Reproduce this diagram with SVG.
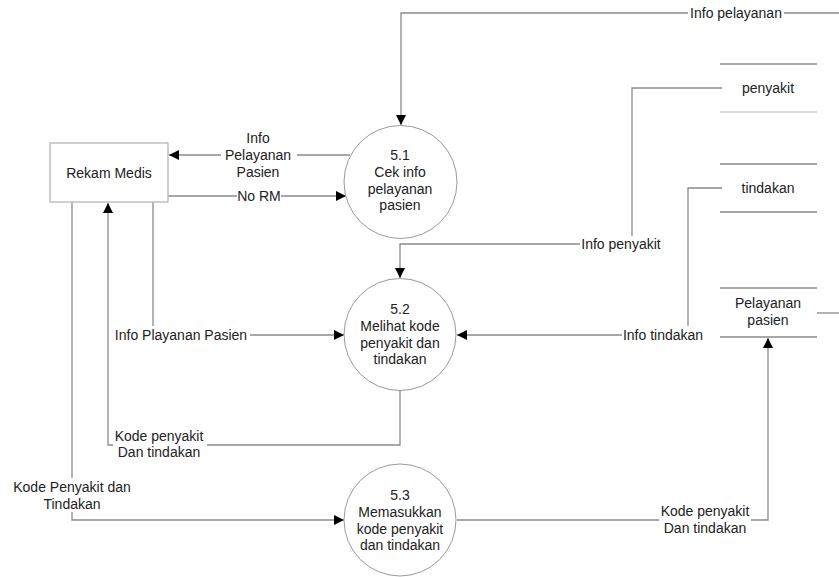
<svg xmlns="http://www.w3.org/2000/svg" width="839" height="577" viewBox="0 0 839 577">
<style>
text{font-family:"Liberation Sans",Arial,sans-serif;font-size:14px;fill:#222;text-anchor:middle;dominant-baseline:central}
.ln{fill:none;stroke:#8a8a8a;stroke-width:1.3}
.proc{fill:#fff;stroke:#9a9a9a;stroke-width:1}
.ent{fill:#fff;stroke:#b5b5b5;stroke-width:1.3}
.st{stroke:#8a8a8a;stroke-width:1.3}
.bg{fill:#fff}
</style>
<defs>
<marker id="ah" markerUnits="userSpaceOnUse" markerWidth="10" markerHeight="10" viewBox="0 0 10 10" refX="10" refY="5" orient="auto">
<path d="M0,0 L10,5 L0,10 z" fill="#000"/>
</marker>
</defs>
<rect width="839" height="577" fill="#fff"/>
<g id="connectors">
<path class="ln" d="M839,13 H401 V125" marker-end="url(#ah)"/>
<path class="ln" d="M350,155 H169" marker-end="url(#ah)"/>
<path class="ln" d="M168,196 H346" marker-end="url(#ah)"/>
<path class="ln" d="M400,390 V445 H108 V203" marker-end="url(#ah)"/>
<path class="ln" d="M153,202 V335 H344" marker-end="url(#ah)"/>
<path class="ln" d="M72,202 V520 H344" marker-end="url(#ah)"/>
<path class="ln" d="M722,88 H632 V244 H400 V278" marker-end="url(#ah)"/>
<path class="ln" d="M722,188 H688 V335 H457" marker-end="url(#ah)"/>
<path class="ln" d="M457,520 H768 V338" marker-end="url(#ah)"/>
<path class="ln" d="M817,313 H839"/>
<rect class="bg" x="688" y="5" width="96" height="17"/>
<text x="736" y="13">Info pelayanan</text>
<rect class="bg" x="221" y="130" width="76" height="50"/>
<text x="258" y="138">Info</text>
<text x="258" y="155">Pelayanan</text>
<text x="258" y="172">Pasien</text>
<rect class="bg" x="237" y="188" width="44" height="17"/>
<text x="259" y="196">No RM</text>
<rect class="bg" x="113" y="427" width="94" height="34"/>
<text x="159" y="436">Kode penyakit</text>
<text x="159" y="452">Dan tindakan</text>
<rect class="bg" x="113" y="326" width="137" height="18"/>
<text x="181" y="335">Info Playanan Pasien</text>
<rect class="bg" x="10" y="478" width="124" height="34"/>
<text x="72" y="487">Kode Penyakit dan</text>
<text x="72" y="504">Tindakan</text>
<rect class="bg" x="580" y="236" width="83" height="17"/>
<text x="621" y="244">Info penyakit</text>
<rect class="bg" x="622" y="326" width="83" height="18"/>
<text x="663" y="335">Info tindakan</text>
<rect class="bg" x="659" y="502" width="92" height="34"/>
<text x="705" y="511">Kode penyakit</text>
<text x="705" y="528">Dan tindakan</text>
</g>
<g id="rekam-medis">
<rect class="ent" x="50" y="143" width="118" height="59"/>
<text x="109" y="173">Rekam Medis</text>
</g>
<g id="p5-1">
<circle class="proc" cx="400.5" cy="182" r="56.5"/>
<text x="400" y="155">5.1</text>
<text x="400" y="172">Cek info</text>
<text x="400" y="189">pelayanan</text>
<text x="400" y="205">pasien</text>
</g>
<g id="p5-2">
<circle class="proc" cx="400" cy="334.5" r="56"/>
<text x="400" y="309">5.2</text>
<text x="400" y="326">Melihat kode</text>
<text x="400" y="343">penyakit dan</text>
<text x="400" y="359">tindakan</text>
</g>
<g id="p5-3">
<circle class="proc" cx="400" cy="520" r="56"/>
<text x="400" y="495">5.3</text>
<text x="400" y="512">Memasukkan</text>
<text x="400" y="529">kode penyakit</text>
<text x="400" y="545">dan tindakan</text>
</g>
<g id="store-penyakit">
<line class="st" x1="720" y1="64" x2="817" y2="64"/>
<line class="st" x1="720" y1="112" x2="817" y2="112" stroke-opacity="0.4"/>
<text x="768" y="88">penyakit</text>
</g>
<g id="store-tindakan">
<line class="st" x1="720" y1="164" x2="817" y2="164"/>
<line class="st" x1="720" y1="212" x2="817" y2="212"/>
<text x="768" y="188">tindakan</text>
</g>
<g id="store-pelayanan-pasien">
<line class="st" x1="720" y1="288" x2="817" y2="288"/>
<line class="st" x1="720" y1="337" x2="817" y2="337"/>
<text x="768" y="303">Pelayanan</text>
<text x="768" y="320">pasien</text>
</g>
</svg>
